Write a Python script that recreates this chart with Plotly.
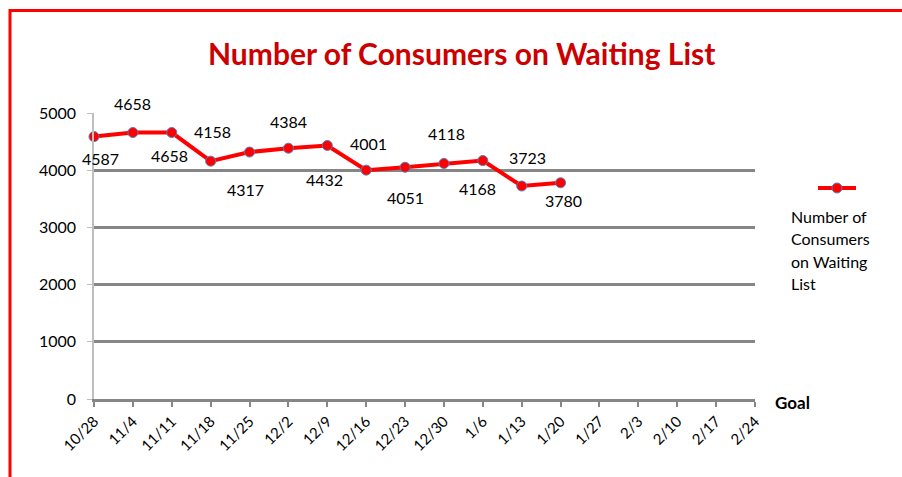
import plotly.graph_objects as go

# ---- data ----
dates = ["10/28", "11/4", "11/11", "11/18", "11/25", "12/2", "12/9", "12/16",
         "12/23", "12/30", "1/6", "1/13", "1/20", "1/27", "2/3", "2/10", "2/17", "2/24"]
waiting = [4587, 4658, 4658, 4158, 4317, 4384, 4432, 4001, 4051, 4118, 4168, 3723, 3780]
y_ticks = [0, 1000, 2000, 3000, 4000, 5000]
series_name = "Number of Consumers on Waiting List"

# ---- style ----
W, H = 902, 477
L, R, T, B = 94, 755, 113, 399   # plot area in pixels
label_dy = [22, -29, 23, -30, 37, -27, 34, -27, 30, -30, 28, -29, 18]
label_dx = [6, 0, -2, 2, -4, 0, -3, 2, 0, 3, -5, 6, 3]
RED = "#FF0000"
FONT = "Lato"

def px(x):
    return (x - L) / (R - L)

def py(y):
    return (B - y) / (B - T)

xs = list(range(len(waiting)))

fig = go.Figure()
fig.add_trace(go.Scatter(
    x=xs, y=waiting, mode="lines+markers", name=series_name,
    line=dict(color=RED, width=4),
    marker=dict(size=10, color=RED, line=dict(color="#4F81BD", width=1)),
    cliponaxis=False, showlegend=False, hoverinfo="skip",
))

annotations = []
for i, v in enumerate(waiting):
    annotations.append(dict(
        x=xs[i], y=v, xref="x", yref="y", text=str(v), showarrow=False,
        xanchor="center", yanchor="middle", xshift=label_dx[i], yshift=-label_dy[i],
        font=dict(family=FONT, size=16, color="#000000"),
    ))

# title
annotations.append(dict(
    x=px(461), y=py(53), xref="paper", yref="paper", text="<b>" + series_name + "</b>",
    showarrow=False, xanchor="center", yanchor="middle",
    font=dict(family=FONT, size=30, color="#CC0000"),
))
# Goal label
annotations.append(dict(
    x=px(793), y=py(402), xref="paper", yref="paper", text="<b>Goal</b>",
    showarrow=False, xanchor="center", yanchor="middle",
    font=dict(family=FONT, size=17, color="#000000"),
))
# legend text
legend_lines = ["Number of", "Consumers", "on Waiting", "List"]
for k, line in enumerate(legend_lines):
    annotations.append(dict(
        x=px(789), y=py(216 + k * 22.5), xref="paper", yref="paper", text=line,
        showarrow=False, xanchor="left", yanchor="middle",
        font=dict(family=FONT, size=16, color="#000000"),
    ))

shapes = [
    # red frame (top and left)
    dict(type="line", xref="paper", yref="paper", x0=px(10), x1=px(W + 5), y0=py(10.5), y1=py(10.5),
         line=dict(color=RED, width=3)),
    dict(type="line", xref="paper", yref="paper", x0=px(10), x1=px(10), y0=py(9), y1=py(H + 5),
         line=dict(color=RED, width=3)),
    # legend symbol
    dict(type="line", xref="paper", yref="paper", x0=px(818), x1=px(856), y0=py(188), y1=py(188),
         line=dict(color=RED, width=4)),
    dict(type="circle", xref="paper", yref="paper", x0=px(832), x1=px(842), y0=py(183), y1=py(193),
         fillcolor=RED, line=dict(color="#4F81BD", width=1)),
]

fig.update_layout(
    width=W, height=H,
    margin=dict(l=L, r=W - R, t=T, b=H - B, autoexpand=False),
    paper_bgcolor="white", plot_bgcolor="white",
    font=dict(family=FONT, size=15, color="#000000"),
    annotations=annotations, shapes=shapes, showlegend=False,
    hovermode=False,
    xaxis=dict(
        range=[0, len(dates) - 1], tickvals=list(range(len(dates))), ticktext=dates,
        tickangle=-45, showgrid=False, zeroline=False,
        showline=True, linecolor="#868686", linewidth=2.5,
        ticks="outside", ticklen=5, tickcolor="#868686", tickwidth=1.5,
        tickfont=dict(family=FONT, size=15),
    ),
    yaxis=dict(
        range=[0, 5000], tickvals=y_ticks, showgrid=True, gridcolor="#868686", gridwidth=2.5,
        zeroline=False, showline=True, linecolor="#BFBFBF", linewidth=1.5,
        ticks="outside", ticklen=5, tickcolor="#BFBFBF", ticklabelstandoff=8,
        tickfont=dict(family=FONT, size=16),
    ),
)

fig.write_html("out.html", config={"displayModeBar": False},
               post_script="document.body.style.margin='0px';")
